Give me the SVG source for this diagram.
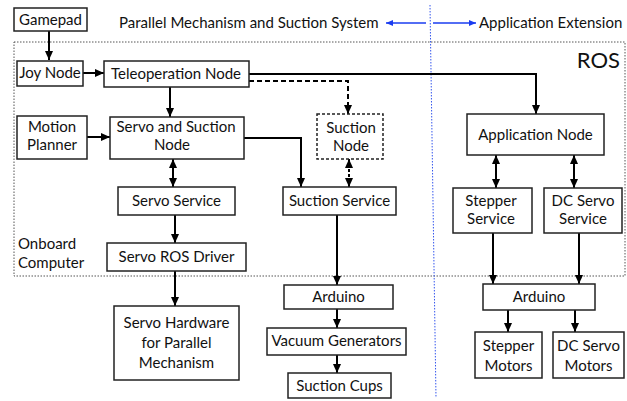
<svg xmlns="http://www.w3.org/2000/svg" width="627" height="401" viewBox="0 0 627 401">
<defs>
<style>
text{font-family:Lato,"Liberation Sans",sans-serif;font-size:15px;fill:#111;}
.c{text-anchor:middle;}
.box{fill:#fff;stroke:#222;stroke-width:1.5;}
.dbox{fill:#fff;stroke:#222;stroke-width:1.5;stroke-dasharray:3 2;}
.ln{fill:none;stroke:#000;stroke-width:2;}
.dl{fill:none;stroke:#000;stroke-width:2;stroke-dasharray:5 3;}
.bl{fill:none;stroke:#1a3cf0;stroke-width:1.3;}
</style>
<marker id="ah" markerUnits="userSpaceOnUse" markerWidth="10" markerHeight="10" refX="9" refY="5" orient="auto-start-reverse"><path d="M0,1 L9,5 L0,9 z" fill="#000"/></marker>
<marker id="bh" markerUnits="userSpaceOnUse" markerWidth="8" markerHeight="8" refX="7" refY="4" orient="auto"><path d="M0,1 L7,4 L0,7 z" fill="#1a3cf0"/></marker>
</defs>
<rect width="627" height="401" fill="#fff"/>
<rect x="14" y="42" width="611" height="234" fill="none" stroke="#555" stroke-width="1" stroke-dasharray="1.5 1.5"/>
<path d="M430,5 L436,398" fill="none" stroke="#3355ee" stroke-width="1" stroke-dasharray="1.5 1.5"/>
<text x="119" y="28">Parallel Mechanism and Suction System</text>
<text x="479" y="28">Application Extension</text>
<text x="620" y="68" style="font-size:22px;text-anchor:end">ROS</text>
<text x="18" y="249">Onboard</text>
<text x="18" y="268">Computer</text>
<g id="connectors">
<path class="bl" d="M426,23 H386" marker-end="url(#bh)"/>
<path class="bl" d="M433,23 H476" marker-end="url(#bh)"/>
<path class="ln" d="M49,31 V60" marker-end="url(#ah)"/>
<path class="ln" d="M83,73 H104" marker-end="url(#ah)"/>
<path class="ln" d="M170,87 V117" marker-end="url(#ah)"/>
<path class="ln" d="M249,74 H536 V114" marker-end="url(#ah)"/>
<path class="dl" d="M249,81 H348 V114" marker-end="url(#ah)"/>
<path class="ln" d="M87,137 H110" marker-end="url(#ah)"/>
<path class="ln" d="M244,138 H301 V187" marker-end="url(#ah)"/>
<path class="ln" d="M173,159 V187" marker-start="url(#ah)" marker-end="url(#ah)"/>
<path class="dl" d="M349,159 V187" style="stroke-dasharray:3 2" marker-start="url(#ah)" marker-end="url(#ah)"/>
<path class="ln" d="M175,215 V243" marker-end="url(#ah)"/>
<path class="ln" d="M175,271 V306" marker-end="url(#ah)"/>
<path class="ln" d="M337,215 V285" marker-end="url(#ah)"/>
<path class="ln" d="M337,309 V328" marker-end="url(#ah)"/>
<path class="ln" d="M337,355 V373" marker-end="url(#ah)"/>
<path class="ln" d="M496,155 V188" marker-start="url(#ah)" marker-end="url(#ah)"/>
<path class="ln" d="M574,155 V188" marker-start="url(#ah)" marker-end="url(#ah)"/>
<path class="ln" d="M493,233 V284" marker-end="url(#ah)"/>
<path class="ln" d="M579,233 V284" marker-end="url(#ah)"/>
<path class="ln" d="M508,310 V332" marker-end="url(#ah)"/>
<path class="ln" d="M575,310 V332" marker-end="url(#ah)"/>
</g>
<g id="gamepad"><rect class="box" x="14" y="8" width="73" height="23"/><text class="c" x="50.5" y="25">Gamepad</text></g>
<g id="joy"><rect class="box" x="17" y="61" width="66" height="25"/><text class="c" x="50" y="78">Joy Node</text></g>
<g id="teleop"><rect class="box" x="104" y="61" width="145" height="26"/><text class="c" x="176" y="79">Teleoperation Node</text></g>
<g id="motion"><rect class="box" x="17" y="116" width="70" height="43"/><text class="c" x="52" y="132">Motion</text><text class="c" x="52" y="150">Planner</text></g>
<g id="servosuction"><rect class="box" x="110" y="117" width="134" height="42"/><text class="c" x="176" y="132">Servo and Suction</text><text class="c" x="172" y="150">Node</text></g>
<g id="suctionnode"><rect class="dbox" x="317" y="114" width="66" height="45"/><text class="c" x="351" y="133">Suction</text><text class="c" x="351" y="151">Node</text></g>
<g id="servoservice"><rect class="box" x="118" y="187" width="117" height="28"/><text class="c" x="176.5" y="206">Servo Service</text></g>
<g id="suctionservice"><rect class="box" x="283" y="187" width="113" height="28"/><text class="c" x="339.5" y="206">Suction Service</text></g>
<g id="driver"><rect class="box" x="107" y="243" width="139" height="28"/><text class="c" x="176.5" y="262">Servo ROS Driver</text></g>
<g id="hardware"><rect class="box" x="114" y="306" width="125" height="74"/><text class="c" x="176.5" y="328">Servo Hardware</text><text class="c" x="176.5" y="348">for Parallel</text><text class="c" x="176.5" y="368">Mechanism</text></g>
<g id="arduino1"><rect class="box" x="284" y="285" width="109" height="24"/><text class="c" x="338.5" y="302">Arduino</text></g>
<g id="vacuum"><rect class="box" x="267" y="328" width="139" height="27"/><text class="c" x="336.5" y="346">Vacuum Generators</text></g>
<g id="cups"><rect class="box" x="288" y="373" width="103" height="25"/><text class="c" x="339.5" y="391">Suction Cups</text></g>
<g id="appnode"><rect class="box" x="467" y="114" width="137" height="41"/><text class="c" x="535.5" y="140">Application Node</text></g>
<g id="stepperservice"><rect class="box" x="453" y="188" width="79" height="45"/><text class="c" x="491" y="206">Stepper</text><text class="c" x="491" y="224">Service</text></g>
<g id="dcservoservice"><rect class="box" x="544" y="188" width="78" height="45"/><text class="c" x="583" y="206">DC Servo</text><text class="c" x="583" y="224">Service</text></g>
<g id="arduino2"><rect class="box" x="483" y="284" width="112" height="26"/><text class="c" x="539" y="302">Arduino</text></g>
<g id="steppermotors"><rect class="box" x="475" y="332" width="67" height="46"/><text class="c" x="508.5" y="351">Stepper</text><text class="c" x="508.5" y="371">Motors</text></g>
<g id="dcmotors"><rect class="box" x="553" y="332" width="71" height="46"/><text class="c" x="588.5" y="351">DC Servo</text><text class="c" x="588.5" y="371">Motors</text></g>
</svg>
